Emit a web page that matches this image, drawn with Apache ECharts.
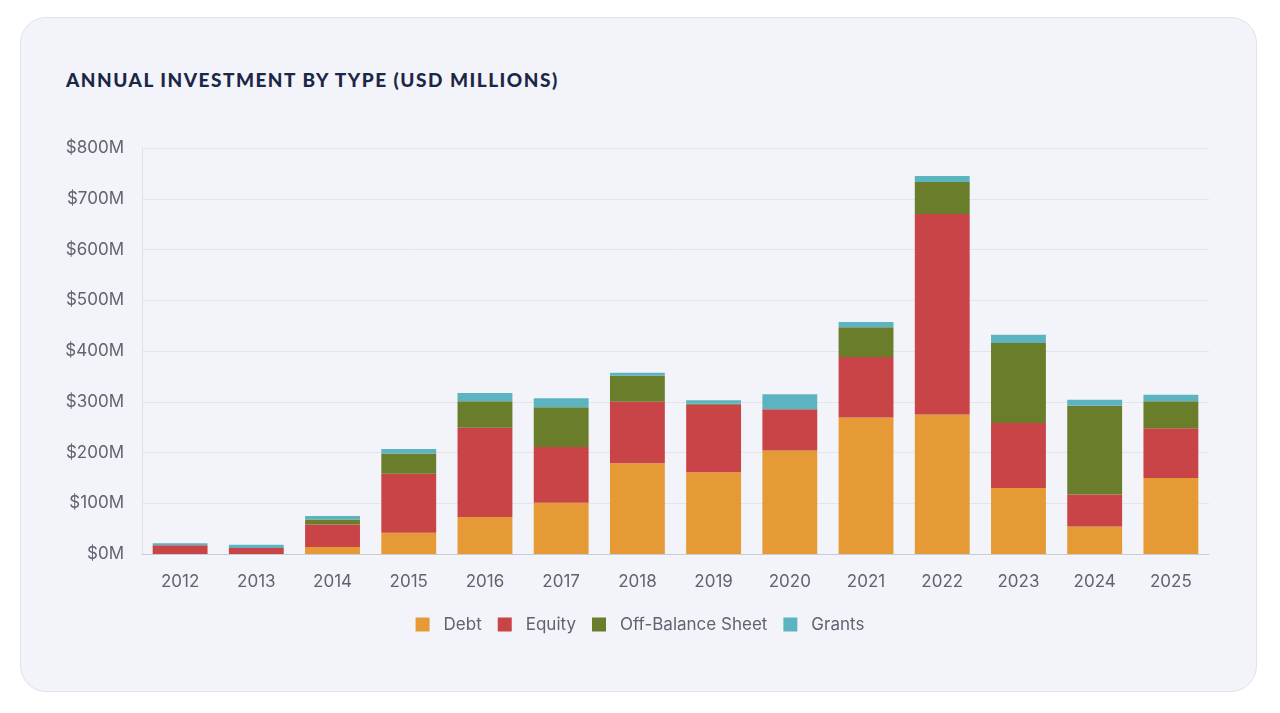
<!DOCTYPE html>
<html>
<head>
<meta charset="utf-8">
<script src="https://cdn.jsdelivr.net/npm/echarts@6/dist/echarts.min.js"></script>
<style>
  html, body { margin: 0; padding: 0; background: #ffffff; }
  .card {
    position: absolute; left: 20px; top: 17px; width: 1235px; height: 673px;
    background: #f3f4fa; border: 1px solid #e1e3ea; border-radius: 26px;
  }
  .title {
    position: absolute; left: 66px; top: 68px; margin: 0;
    font-family: Lato, "Noto Sans", sans-serif; font-weight: 900; font-size: 19px;
    letter-spacing: 1.5px; color: #1c2747;
  }
  #chart { position: absolute; left: 0; top: 0; width: 1280px; height: 713px; }
</style>
</head>
<body>
<div class="card"></div>
<h2 class="title">ANNUAL INVESTMENT BY TYPE (USD MILLIONS)</h2>
<div id="chart"></div>
<script>
// 数据 (USD millions)
const years = ["2012", "2013", "2014", "2015", "2016", "2017", "2018", "2019", "2020", "2021", "2022", "2023", "2024", "2025"];
const debt = [0, 0, 14, 42, 73, 101, 179, 161, 204, 269, 275, 130, 54, 150];
const equity = [17, 12, 44, 116, 176, 110, 121, 133, 81, 119, 395, 128, 63, 98];
const offBalance = [0, 0, 10, 40, 52, 78, 51, 2, 0, 59, 63, 158, 175, 53];
const grants = [4, 6, 7, 9, 16, 18, 6, 7, 30, 10, 12, 16, 12, 13];
const yTicks = [0, 100, 200, 300, 400, 500, 600, 700, 800];

let myChart = echarts.init(document.getElementById("chart"));

function bar(name, data, color) {
  return {
    name: name,
    type: "bar",
    stack: "total",
    barWidth: "72%",
    itemStyle: { color: color },
    data: data
  };
}

myChart.setOption({
  backgroundColor: "transparent",
  textStyle: { fontFamily: "Inter, sans-serif" },
  grid: { left: 142, right: 71, top: 148, bottom: 159 },
  legend: {
    top: 611,
    left: "center",
    itemWidth: 14,
    itemHeight: 14,
    itemGap: 16,
    icon: "rect",
    textStyle: { color: "#5f6470", fontSize: 17, padding: [0, 0, 0, 9] },
    data: ["Debt", "Equity", "Off-Balance Sheet", "Grants"]
  },
  xAxis: {
    type: "category",
    data: years,
    axisTick: { show: false },
    axisLine: { lineStyle: { color: "#c9ccd4" } },
    axisLabel: { color: "#5f6470", fontSize: 17, margin: 19 }
  },
  yAxis: {
    type: "value",
    min: yTicks[0],
    max: yTicks[yTicks.length - 1],
    interval: 100,
    axisLine: { show: true, lineStyle: { color: "#dfe1e7" } },
    axisTick: { show: false },
    splitLine: { lineStyle: { color: "#e3e5eb" } },
    axisLabel: {
      color: "#5f6470",
      fontSize: 17,
      margin: 18,
      formatter: v => "$" + v + "M"
    }
  },
  series: [
    bar("Debt", debt, "#e59a36"),
    bar("Equity", equity, "#c94447"),
    bar("Off-Balance Sheet", offBalance, "#6a7d2b"),
    bar("Grants", grants, "#5db4c1")
  ]
});
</script>
</body>
</html>
